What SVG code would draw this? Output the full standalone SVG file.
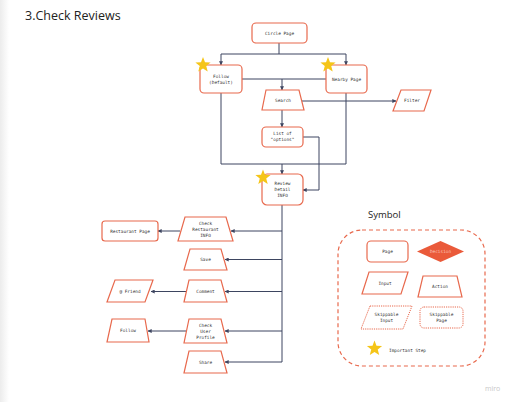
<svg xmlns="http://www.w3.org/2000/svg" width="512" height="402" viewBox="0 0 512 402">
<style>
.n{fill:#fff;stroke:#e8694d;stroke-width:1.2}
.sk{fill:#fff;stroke:#e8694d;stroke-width:1;stroke-dasharray:1.2 1}
.t{font-family:"DejaVu Sans Mono","Liberation Mono",monospace;font-size:4.4px;fill:#333;text-anchor:middle}
.c{fill:none;stroke:#3d4560;stroke-width:1}
.a{marker-end:url(#ah)}
.star{fill:#f5c518}
</style>
<defs>
<marker id="ah" viewBox="0 0 6 6" refX="5.5" refY="3" markerWidth="4" markerHeight="4" orient="auto" markerUnits="userSpaceOnUse">
<path d="M0,0 L6,3 L0,6 z" fill="#3d4560"/>
</marker>
<path id="star" d="M0,-8 L2,-2.75 L7.61,-2.47 L3.23,1.05 L4.7,6.47 L0,3.4 L-4.7,6.47 L-3.23,1.05 L-7.61,-2.47 L-2,-2.75 Z"/>
<linearGradient id="lg" x1="0" x2="1" y1="0" y2="0">
<stop offset="0" stop-color="#ececec"/>
<stop offset="1" stop-color="#ffffff"/>
</linearGradient>
</defs>
<rect width="512" height="402" fill="#fff"/>
<rect x="0" y="0" width="9" height="402" fill="url(#lg)"/>
<text x="25" y="20" font-family="'Open Sans',sans-serif" font-size="12.5" fill="#222">3.Check Reviews</text>

<g id="connectors">
<path class="c" d="M279,43 V54 M221,54 H346"/>
<path class="c a" d="M221,54 V65"/>
<path class="c a" d="M346,54 V65"/>
<path class="c" d="M242,79 H326"/>
<path class="c a" d="M282,79 V90"/>
<path class="c a" d="M302,101 H396"/>
<path class="c a" d="M282,110 V127"/>
<path class="c a" d="M303,137 H319 V190 H303"/>
<path class="c" d="M221,93 V164 H346 V93"/>
<path class="c a" d="M282,164 V174"/>
<path class="c" d="M282,205 V362"/>
<path class="c a" d="M282,231 H231"/>
<path class="c a" d="M180,231 H158"/>
<path class="c a" d="M282,259.5 H225"/>
<path class="c a" d="M282,291.5 H225"/>
<path class="c a" d="M186,291.5 H151"/>
<path class="c a" d="M282,331 H225"/>
<path class="c a" d="M186,331 H148"/>
<path class="c a" d="M282,362 H225"/>
</g>

<g id="circle-page">
<rect class="n" x="252" y="23" width="55" height="20" rx="4"/>
<text class="t" x="279.5" y="34.5">Circle Page</text>
</g>
<g id="follow-default">
<rect class="n" x="200" y="65" width="42" height="28" rx="4"/>
<text class="t" x="221" y="77.5">Follow</text>
<text class="t" x="221" y="83.5">(Default)</text>
<use href="#star" class="star" transform="translate(203,65)"/>
</g>
<g id="nearby-page">
<rect class="n" x="326" y="65" width="41" height="28" rx="4"/>
<text class="t" x="346.5" y="80.5">Nearby Page</text>
<use href="#star" class="star" transform="translate(328,65)"/>
</g>
<g id="search">
<polygon class="n" points="266,90 299,90 304,110 262,110"/>
<text class="t" x="283" y="101.5">Search</text>
</g>
<g id="filters">
<polygon class="n" points="401,90 431,90 424,111 393,111"/>
<text class="t" x="412" y="102">Filter</text>
</g>
<g id="list-options">
<rect class="n" x="262" y="127" width="41" height="20" rx="4"/>
<text class="t" x="282.5" y="135">List of</text>
<text class="t" x="282.5" y="141">"options"</text>
</g>
<g id="review-detail">
<rect class="n" x="262" y="174" width="41" height="31" rx="5"/>
<text class="t" x="282.5" y="185">Review</text>
<text class="t" x="282.5" y="191">Detail</text>
<text class="t" x="282.5" y="197">INFO</text>
<use href="#star" class="star" transform="translate(263,177.5)"/>
</g>
<g id="check-restaurant">
<polygon class="n" points="185,217 226,217 233,241 178,241"/>
<text class="t" x="205.5" y="225">Check</text>
<text class="t" x="205.5" y="231">Restaurant</text>
<text class="t" x="205.5" y="237">INFO</text>
</g>
<g id="restaurant-page">
<rect class="n" x="102" y="221" width="56" height="20" rx="3"/>
<text class="t" x="130" y="232.5">Restaurant Page</text>
</g>
<g id="save">
<polygon class="n" points="190,249 221,249 227,270 184,270"/>
<text class="t" x="205.5" y="261">Save</text>
</g>
<g id="comment">
<polygon class="n" points="189,280 221,280 227,302 184,302"/>
<text class="t" x="205.5" y="292.5">Comment</text>
</g>
<g id="at-friend">
<polygon class="n" points="115,280 153,280 145,302 107,302"/>
<text class="t" x="130" y="292.5">@ Friend</text>
</g>
<g id="check-user-profile">
<polygon class="n" points="189,319 221,319 227,343 184,343"/>
<text class="t" x="205.5" y="326.5">Check</text>
<text class="t" x="205.5" y="332.5">User</text>
<text class="t" x="205.5" y="338.5">Profile</text>
</g>
<g id="follow">
<polygon class="n" points="112,319 145,319 149,342 107,342"/>
<text class="t" x="128" y="332">Follow</text>
</g>
<g id="share">
<polygon class="n" points="189,351 221,351 227,373 184,373"/>
<text class="t" x="205.5" y="363.5">Share</text>
</g>

<g id="legend">
<text x="368" y="218" font-family="'Open Sans',sans-serif" font-size="9.5" fill="#222">Symbol</text>
<rect x="338" y="230" width="147" height="136" rx="24" fill="none" stroke="#e8694d" stroke-width="1.2" stroke-dasharray="4 3"/>
<rect class="n" x="367" y="241" width="41" height="21" rx="4"/>
<text class="t" x="387.5" y="253">Page</text>
<polygon points="417,251.5 440.5,241 464,251.5 440.5,262" fill="#ea5a3a"/>
<text class="t" x="440.5" y="253" style="fill:#fbc3b5">Decision</text>
<polygon class="n" points="369,272 408,272 401,294 362,294"/>
<text class="t" x="385" y="284.5">Input</text>
<polygon class="n" points="423,276 457,276 462,297 418,297"/>
<text class="t" x="440" y="288">Action</text>
<polygon class="sk" points="370,306 412,306 403,329 361,329"/>
<text class="t" x="386.5" y="316">Skippable</text>
<text class="t" x="386.5" y="322">Input</text>
<rect class="sk" x="420" y="307" width="43" height="21" rx="4"/>
<text class="t" x="441.5" y="316">Skippable</text>
<text class="t" x="441.5" y="322">Page</text>
<use href="#star" class="star" transform="translate(374.5,348.5)"/>
<text class="t" x="389" y="352" style="text-anchor:start">Important Step</text>
</g>
<text x="485" y="391" font-family="'Open Sans',sans-serif" font-size="7" fill="#c8c8c8">miro</text>
</svg>
